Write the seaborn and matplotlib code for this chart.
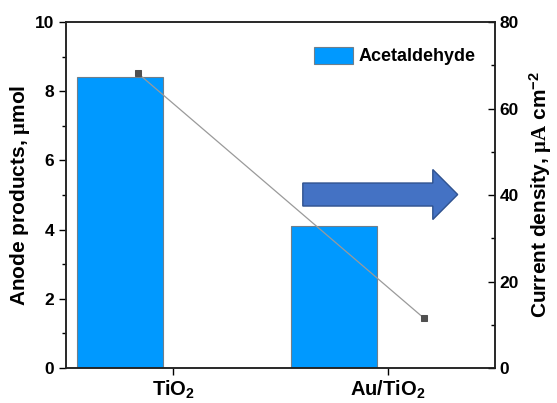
import matplotlib
matplotlib.use("Agg")
import matplotlib.pyplot as plt
import matplotlib.patches as mpatches
from matplotlib.ticker import MultipleLocator
import pandas as pd
import seaborn as sns

# Data
catalysts = ["TiO$_{\\mathbf{2}}$", "Au/TiO$_{\\mathbf{2}}$"]
cat_pos = [1, 2]
bar_pos = [0.75, 1.75]
acetaldehyde = [8.42, 4.11]          # umol
cd_pos = [0.836, 2.167]
current_density = [68.1, 11.6]       # uA cm^-2

sns.set_theme(style="ticks")
plt.rcParams["font.family"] = ["Liberation Sans", "DejaVu Sans"]
plt.rcParams["font.weight"] = "bold"
plt.rcParams["text.color"] = "black"
plt.rcParams["axes.labelcolor"] = "black"
plt.rcParams["xtick.color"] = "black"
plt.rcParams["ytick.color"] = "black"
plt.rcParams["mathtext.fontset"] = "custom"
plt.rcParams["mathtext.rm"] = "Liberation Serif"
plt.rcParams["mathtext.bf"] = "Liberation Sans:bold"
plt.rcParams["mathtext.it"] = "Liberation Sans:italic"
plt.rcParams["mathtext.default"] = "bf"

fig = plt.figure(figsize=(5.57, 4.03), dpi=100)
ax = fig.add_axes([0.1185, 0.0868, 0.7702, 0.8586])

df = pd.DataFrame({"pos": bar_pos, "val": acetaldehyde})
sns.barplot(data=df, x="pos", y="val", native_scale=True, width=0.4,
            color="#0099FF", saturation=1, edgecolor="#6E7F8C", linewidth=0.8,
            ax=ax)

ax.set_xlim(0.5, 2.5)
ax.set_ylim(0, 10)
ax.set_xticks(cat_pos)
ax.set_xticklabels(catalysts, fontsize=14.5, fontweight="bold")
ax.yaxis.set_major_locator(MultipleLocator(2))
ax.yaxis.set_minor_locator(MultipleLocator(1))
ax.tick_params(axis="y", which="major", labelsize=12.5, direction="out", length=5, width=1)
ax.tick_params(axis="y", which="minor", direction="out", length=3, width=1)
ax.tick_params(axis="x", direction="out", length=5, width=1, pad=3)
for lab in ax.get_yticklabels():
    lab.set_fontweight("bold")
ax.set_xlabel("")
ax.set_ylabel(r"Anode products, $\mathrm{\mu}$mol", fontsize=15, fontweight="bold", labelpad=2)
for s in ax.spines.values():
    s.set_linewidth(1.1)
    s.set_color("#222222")

ax2 = ax.twinx()
sns.lineplot(x=cd_pos, y=current_density, ax=ax2, color="#9A9A9A", linewidth=0.9,
             marker="s", markersize=5, markerfacecolor="#505050",
             markeredgecolor="#505050")
ax2.set_ylim(0, 80)
ax2.yaxis.set_major_locator(MultipleLocator(20))
ax2.yaxis.set_minor_locator(MultipleLocator(10))
ax2.tick_params(axis="y", which="major", labelsize=12.5, direction="in", length=5, width=1)
ax2.tick_params(axis="y", which="minor", direction="in", length=3, width=1)
for lab in ax2.get_yticklabels():
    lab.set_fontweight("bold")
ax2.set_ylabel(r"Current density, $\mathrm{\mu A}$ cm$^{-2}$", fontsize=15,
               fontweight="bold", labelpad=6)
for s in ax2.spines.values():
    s.set_linewidth(1.1)
    s.set_color("#222222")

# Legend for the bars
handle = mpatches.Patch(facecolor="#0099FF", edgecolor="#6E7F8C", linewidth=0.8,
                        label="Acetaldehyde")
ax.legend(handles=[handle], loc="upper right", bbox_to_anchor=(0.993, 0.975),
          frameon=False, handlelength=2.2, handleheight=1.05,
          handletextpad=0.3, prop={"weight": "bold", "size": 13})

# Block arrow
arrow = mpatches.FancyArrow(0.552, 0.5014, 0.361, 0, width=0.0665,
                            head_width=0.1445, head_length=0.058,
                            length_includes_head=True,
                            facecolor="#4472C4", edgecolor="#2F528F",
                            linewidth=1, zorder=5)
ax2.add_patch(arrow)
arrow.set_transform(ax2.transAxes)

fig.savefig("out.png", dpi=100)
